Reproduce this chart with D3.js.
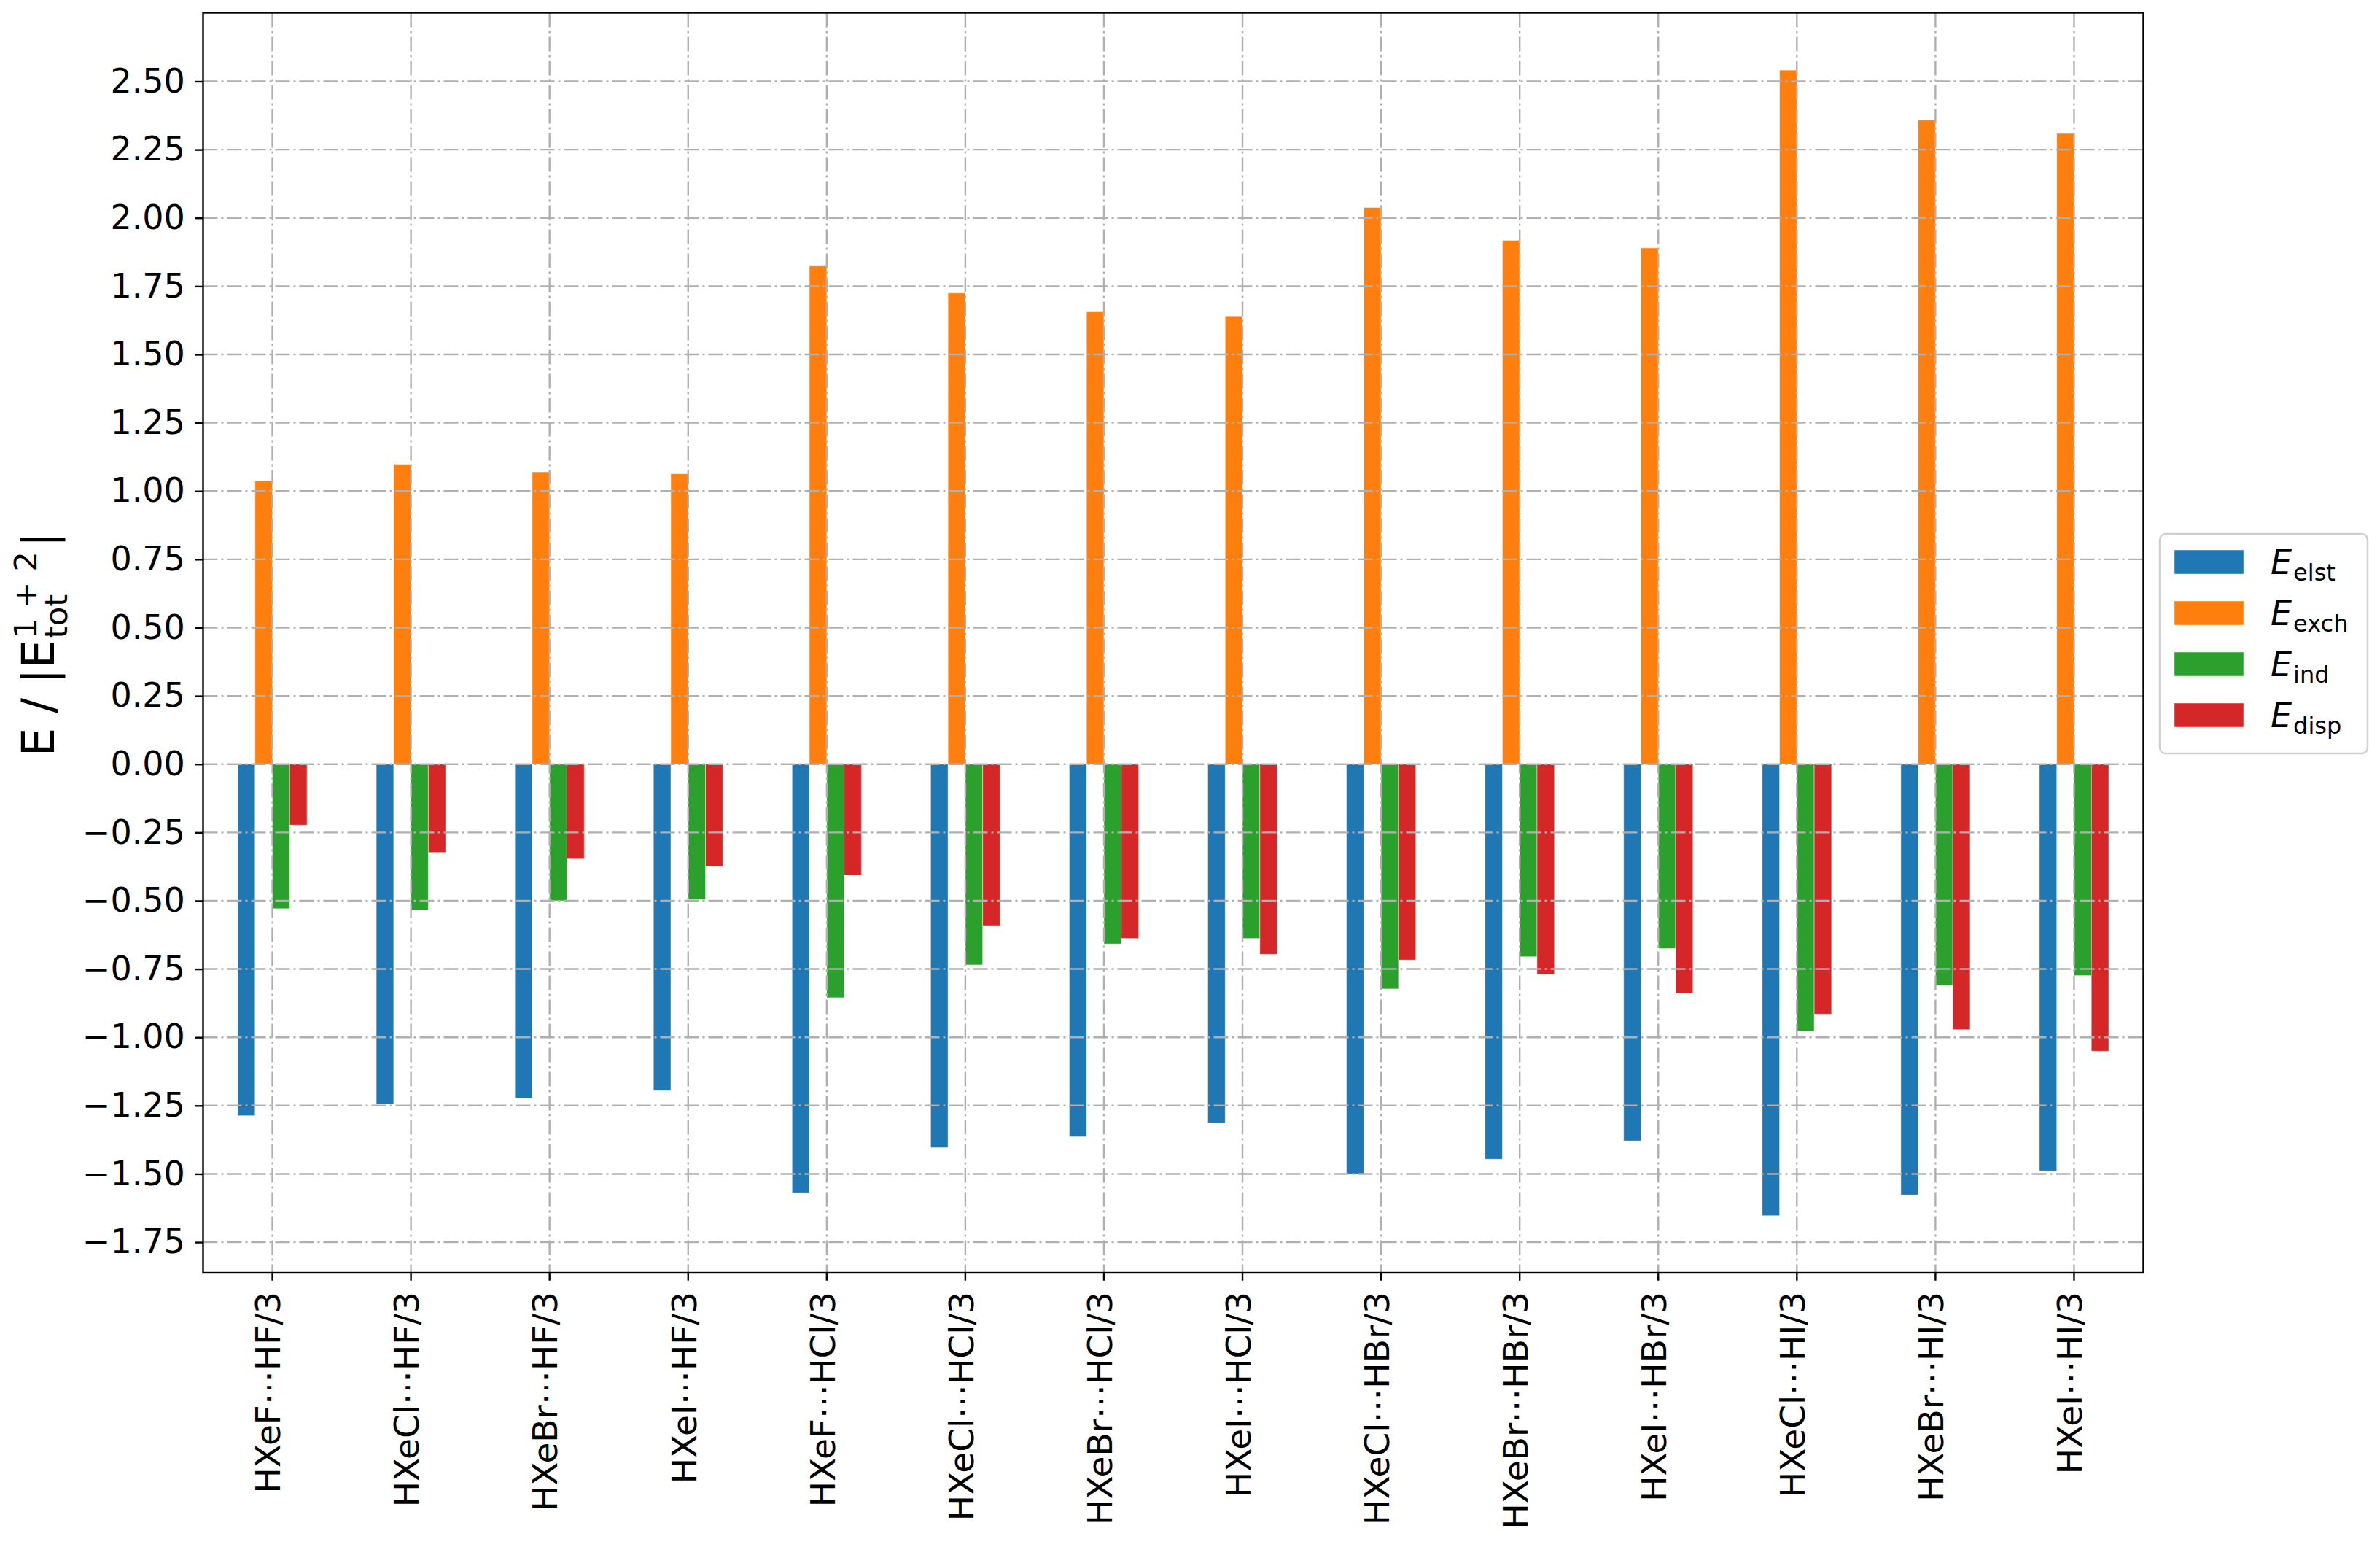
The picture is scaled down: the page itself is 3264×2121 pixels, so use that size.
<!DOCTYPE html>
<html><head><meta charset="utf-8">
<script src="https://cdn.jsdelivr.net/npm/d3@7"></script>
<style>body{margin:0;background:#fff} text{font-family:"DejaVu Sans",sans-serif}</style>
</head><body>
<svg id="chart" width="3264" height="2121" xmlns="http://www.w3.org/2000/svg"></svg>
<script>
const categories = ["HXeF\u22efHF/3","HXeCl\u22efHF/3","HXeBr\u22efHF/3","HXeI\u22efHF/3",
  "HXeF\u22efHCl/3","HXeCl\u22efHCl/3","HXeBr\u22efHCl/3","HXeI\u22efHCl/3",
  "HXeCl\u22efHBr/3","HXeBr\u22efHBr/3","HXeI\u22efHBr/3",
  "HXeCl\u22efHI/3","HXeBr\u22efHI/3","HXeI\u22efHI/3"];
const seriesKeys = ["elst","exch","ind","disp"];
const E_elst = [-1.287,-1.245,-1.223,-1.195,-1.569,-1.404,-1.364,-1.313,-1.500,-1.446,-1.379,-1.653,-1.577,-1.489];
const E_exch = [1.037,1.098,1.070,1.063,1.824,1.725,1.656,1.641,2.038,1.918,1.890,2.541,2.358,2.309];
const E_ind  = [-0.529,-0.534,-0.500,-0.496,-0.855,-0.735,-0.658,-0.638,-0.823,-0.705,-0.675,-0.977,-0.810,-0.774];
const E_disp = [-0.223,-0.323,-0.347,-0.375,-0.406,-0.591,-0.638,-0.696,-0.717,-0.770,-0.839,-0.915,-0.972,-1.051];
const seriesColors = ["#1f77b4","#ff7f0e","#2ca02c","#d62728"];
const yTickValues = [-1.75,-1.5,-1.25,-1.0,-0.75,-0.5,-0.25,0,0.25,0.5,0.75,1.0,1.25,1.5,1.75,2.0,2.25,2.5];
const yDomain = [-1.862, 2.751];

const seriesValues = [E_elst, E_exch, E_ind, E_disp];

const svg = d3.select("#chart");
svg.append("rect").attr("width",3264).attr("height",2121).attr("fill","#fff");

const L = 278.5, R = 2939.5, T = 17.5, B = 1745;
const x = d3.scaleBand().domain(categories).range([L, R]).paddingInner(0).paddingOuter(0);
const y = d3.scaleLinear().domain(yDomain).range([B, T]);
const bw = x.bandwidth();
const sub = d3.scaleBand().domain(seriesKeys).range([-0.25*bw, 0.25*bw]);

// bars
const gBars = svg.append("g");
seriesKeys.forEach((k, si) => {
  gBars.selectAll(null).data(seriesValues[si]).enter().append("rect")
    .attr("x", (d,i) => x(categories[i]) + bw/2 + sub(k))
    .attr("width", sub.bandwidth())
    .attr("y", d => Math.min(y(d), y(0)))
    .attr("height", d => Math.abs(y(d) - y(0)))
    .attr("fill", seriesColors[si])
    .attr("stroke", "#fff").attr("stroke-opacity", 0.45).attr("stroke-width", 1);
});

// grid (drawn above bars as in matplotlib default)
const dash = "20,5,3,5";
const gGrid = svg.append("g").attr("stroke","#b0b0b0").attr("stroke-width",2.4).attr("stroke-dasharray",dash).attr("fill","none");
yTickValues.forEach(v => {
  gGrid.append("line").attr("x1",L).attr("x2",R).attr("y1",y(v)).attr("y2",y(v));
});
categories.forEach(c => {
  const cx = x(c) + bw/2;
  gGrid.append("line").attr("x1",cx).attr("x2",cx).attr("y1",T).attr("y2",B);
});

// axes via d3
const yAxis = d3.axisLeft(y).tickValues(yTickValues).tickFormat(d3.format(".2f")).tickSize(10.7).tickPadding(14);
const gy = svg.append("g").attr("transform",`translate(${L},0)`).call(yAxis);
gy.select(".domain").remove();
gy.selectAll(".tick line").attr("stroke","#000").attr("stroke-width",2.4);
gy.selectAll(".tick text").attr("font-size",46).attr("fill","#000").attr("font-family","DejaVu Sans");

const xAxis = d3.axisBottom(x).tickSize(10.7).tickPadding(0);
const gx = svg.append("g").attr("transform",`translate(0,${B})`).call(xAxis);
gx.select(".domain").remove();
gx.selectAll(".tick line").attr("stroke","#000").attr("stroke-width",2.4);
gx.selectAll(".tick text").attr("font-size",47).attr("fill","#000").attr("font-family","DejaVu Sans")
  .attr("transform","translate(0,26) rotate(-90)")
  .attr("text-anchor","end").attr("dy","0.23em").attr("y",0).attr("x",0);

// spines
svg.append("rect").attr("x",L).attr("y",T).attr("width",R-L).attr("height",B-T)
  .attr("fill","none").attr("stroke","#000").attr("stroke-width",2.4);

// y label
const gl = svg.append("g").attr("transform","translate(74,883) rotate(-90)");
const main1 = gl.append("text").attr("font-size",62).attr("y",0).text("E / |E");
const w1 = main1.node().getComputedTextLength();
const sup = gl.append("text").attr("font-size",43.5).attr("y",-24).attr("xml:space","preserve").text("1 + 2");
const sb = gl.append("text").attr("font-size",43.5).attr("y",18).text("tot");
const w2 = Math.max(sup.node().getComputedTextLength(), sb.node().getComputedTextLength());
const bar = gl.append("text").attr("font-size",62).attr("y",0).text("|");
const w3 = bar.node().getComputedTextLength();
const total = w1 + 2 + w2 + 6 + w3;
let sx = -total/2;
main1.attr("x", sx);
sup.attr("x", sx + w1 + 2);
sb.attr("x", sx + w1 + 2);
bar.attr("x", sx + w1 + 2 + w2 + 6);

// legend
const lg = svg.append("g");
lg.append("rect").attr("x",2962).attr("y",732).attr("width",285).attr("height",301)
  .attr("rx",8).attr("fill","#fff").attr("fill-opacity",0.8).attr("stroke","#d0d0d0").attr("stroke-width",2.5);
seriesKeys.forEach((k, i) => {
  const py = 754 + i*70;
  lg.append("rect").attr("x",2982).attr("y",py).attr("width",95).attr("height",33)
    .attr("fill",seriesColors[i]).attr("stroke","#fff").attr("stroke-opacity",0.45).attr("stroke-width",1);
  const t = lg.append("text").attr("x",3114).attr("y",py+33).attr("font-size",46);
  t.append("tspan").attr("font-style","italic").text("E");
  t.append("tspan").attr("font-size",32).attr("dy",9).attr("dx",2).text(k);
});
</script>
</body></html>
